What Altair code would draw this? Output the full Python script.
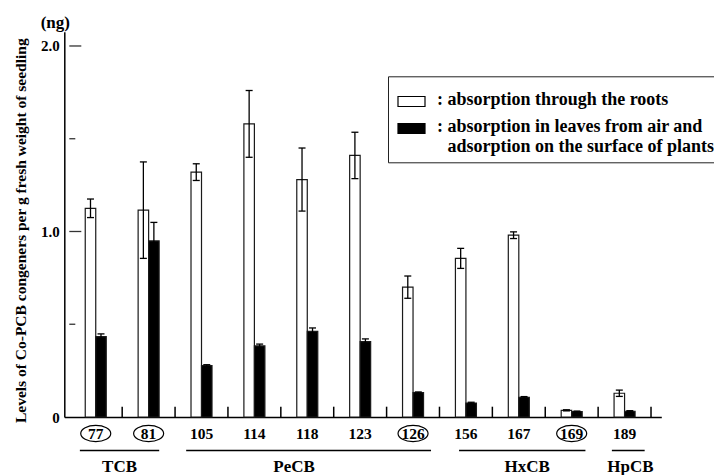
import altair as alt
import pandas as pd

# ---- data ----
categories = ["77", "81", "105", "114", "118", "123", "126", "156", "167", "169", "189"]
roots = [1.125, 1.115, 1.32, 1.58, 1.28, 1.41, 0.70, 0.855, 0.98, 0.036, 0.128]
roots_err = [0.05, 0.26, 0.045, 0.18, 0.17, 0.125, 0.06, 0.054, 0.018, 0.003, 0.017]
leaves = [0.433, 0.949, 0.277, 0.383, 0.462, 0.406, 0.131, 0.0755, 0.106, 0.029, 0.031]
leaves_err = [0.015, 0.10, 0.005, 0.01, 0.018, 0.015, 0.004, 0.004, 0.004, 0.003, 0.003]
circled = ["77", "81", "126", "169"]

groups = ["TCB", "PeCB", "HxCB", "HpCB"]
group_start = [0.2, 2.21, 7.37, 10.26]
group_end = [1.70, 6.84, 9.76, 10.88]
group_label_at = [0.95, 4.25, 8.66, 10.61]

y_label_values = [0, 1, 2]
y_major = [1.0, 2.0]
y_minor = [0.5, 1.5]

series_names = ["roots", "leaves"]
series_colors = ["white", "black"]
legend_line_roots = "absorption through the roots"
legend_lines_leaves = ["absorption in leaves from air and",
                       "adsorption on the surface of plants"]

Y_TITLE = "Levels of Co-PCB congeners per g fresh weight of seedling"
FONT = "Liberation Serif"

# ---- tables ----
df = pd.DataFrame({
    "cat": categories,
    "roots": roots,
    "roots_err": roots_err,
    "leaves": leaves,
    "leaves_err": leaves_err,
})
df["pos"] = [i + 0.5 for i in range(len(categories))]
df_circ = df[df["cat"].isin(circled)]
bounds = pd.DataFrame({"b": list(range(1, len(categories) + 1))})
gdf = pd.DataFrame({"g": groups, "s": group_start, "e": group_end, "at": group_label_at})
ymaj = pd.DataFrame({"v": y_major})
ymin = pd.DataFrame({"v": y_minor})

xs = alt.Scale(domain=[0, 11.1], nice=False, zero=False)
ys = alt.Scale(domain=[0, 2.077], nice=False, zero=False)
cs = alt.Scale(domain=series_names, range=series_colors)

x_axis = alt.Axis(title=None, labels=False, ticks=False, tickSize=0, grid=False,
                  domainColor="black", domainWidth=1.5)
y_axis = alt.Axis(values=y_label_values,
                  labelExpr="datum.value == 0 ? '0' : format(datum.value, '.1f')",
                  ticks=False, tickSize=0, grid=False,
                  domainColor="black", domainWidth=1.5,
                  labelPadding=5, labelFont=FONT, labelFontSize=15,
                  labelFontWeight="bold", labelColor="black",
                  title=Y_TITLE, titleFont=FONT, titleFontSize=15.5,
                  titleFontWeight="bold", titleColor="black",
                  titleAngle=270, titleX=-39.3, titleY=198.5,
                  titleAlign="center", titleBaseline="alphabetic")

NB = "\u00a0"
lab1 = ":" + NB + legend_line_roots
lab2a = ":" + NB + legend_lines_leaves[0]
lab2b = "\u200b" + NB + NB + "\u200a" + legend_lines_leaves[1]
legend = alt.Legend(
    title=None, orient="none", legendX=323.7, legendY=44.6, direction="vertical",
    fillColor="white", strokeColor="#222222", padding=6,
    symbolType="M-6.75,2.6H6.75V7.6H-6.75Z", symbolSize=16, symbolOffset=8.5,
    symbolStrokeColor="black", symbolStrokeWidth=1.2,
    labelFont=FONT, labelFontSize=18, labelFontWeight="bold", labelColor="black",
    labelBaseline="top", labelLimit=800, labelOffset=16.5, rowPadding=0,
    labelExpr=(f"datum.value == 'roots' ? '{lab1}' : ['{lab2a}', '{lab2b}']"),
)

base = alt.Chart(df)
BAR_W = 10.5
HALF = BAR_W / 2
CAP = 3.5
STROKE = "#1a1a1a"


def X(field):
    return alt.X(field, scale=xs, axis=x_axis)


def Y(field):
    return alt.Y(field, scale=ys, axis=y_axis)


def XD(v):
    return alt.X(datum=v, scale=xs, axis=x_axis)


def YD(v):
    return alt.Y(datum=v, scale=ys, axis=y_axis)


roots_bar = base.transform_calculate(series="'roots'").mark_bar(
    width=BAR_W, xOffset=-HALF, stroke=STROKE, strokeWidth=1.2
).encode(x=X("pos:Q"), y=Y("roots:Q"),
         fill=alt.Fill("series:N", scale=cs, legend=legend))
leaves_bar = base.transform_calculate(series="'leaves'").mark_bar(
    width=BAR_W, xOffset=HALF, stroke=STROKE, strokeWidth=1.2
).encode(x=X("pos:Q"), y=Y("leaves:Q"),
         fill=alt.Fill("series:N", scale=cs, legend=legend))


def err_layers(val, err, off):
    b = base.transform_calculate(lo=f"datum.{val} - datum.{err}",
                                 hi=f"datum.{val} + datum.{err}")
    stem = b.mark_rule(color="black", strokeWidth=1.3, xOffset=off).encode(
        x=X("pos:Q"), y=Y("lo:Q"), y2="hi:Q")
    cap_hi = b.mark_rule(color="black", strokeWidth=1.3,
                         xOffset=off - CAP, x2Offset=off + CAP).encode(
        x=X("pos:Q"), x2="pos:Q", y=Y("hi:Q"))
    cap_lo = b.mark_rule(color="black", strokeWidth=1.3,
                         xOffset=off - CAP, x2Offset=off + CAP).encode(
        x=X("pos:Q"), x2="pos:Q", y=Y("lo:Q"))
    return [stem, cap_hi, cap_lo]


x_ticks = alt.Chart(bounds).mark_rule(color="black", strokeWidth=1.5, y2Offset=-10.3).encode(
    x=X("b:Q"), y=YD(0), y2=alt.Y2(datum=0))
y_ticks_major = alt.Chart(ymaj).mark_rule(color="#333333", strokeWidth=1.3, x2Offset=12).encode(
    y=Y("v:Q"), x=XD(0), x2=alt.X2(datum=0))
y_ticks_minor = alt.Chart(ymin).mark_rule(color="#333333", strokeWidth=1.3, x2Offset=6).encode(
    y=Y("v:Q"), x=XD(0), x2=alt.X2(datum=0))

cat_labels = base.mark_text(font=FONT, fontSize=15.5, fontWeight="bold", color="black",
                            baseline="middle", align="center", dy=17).encode(
    x=X("pos:Q"), y=YD(0), text="cat:N")

ellipses = alt.Chart(df_circ).mark_point(
    shape="M-1,0A1,0.54 0 1,0 1,0A1,0.54 0 1,0 -1,0Z", size=900, filled=False,
    color="black", strokeWidth=1.2, opacity=1, yOffset=16.5
).encode(x=X("pos:Q"), y=YD(0))

underlines = alt.Chart(gdf).mark_rule(color="black", strokeWidth=1.5, yOffset=33.5).encode(
    x=X("s:Q"), x2="e:Q", y=YD(0))
group_labels = alt.Chart(gdf).mark_text(font=FONT, fontSize=17, fontWeight="bold", color="black",
                                        baseline="middle", align="center", dy=50).encode(
    x=X("at:Q"), y=YD(0), text="g:N")

unit_label = alt.Chart(pd.DataFrame({"t": ["(ng)"]})).mark_text(
    font=FONT, fontSize=17, fontWeight="bold", color="black",
    baseline="middle", align="center", dx=-14, dy=-9).encode(
    x=XD(0), y=YD(2.077), text="t:N")

layers = [roots_bar, leaves_bar] + err_layers("roots", "roots_err", -HALF) + \
    err_layers("leaves", "leaves_err", HALF) + \
    [x_ticks, y_ticks_major, y_ticks_minor, cat_labels, ellipses, underlines,
     group_labels, unit_label]

chart = alt.layer(*layers).properties(
    width=597, height=385.3,
    padding={"left": 64.3, "top": 31.7, "right": 52.7, "bottom": 58},
    autosize=alt.AutoSizeParams(type="none"),
    background="white",
).configure_view(strokeWidth=0)

chart.save("out.html", embed_options={"renderer": "svg", "actions": False})
